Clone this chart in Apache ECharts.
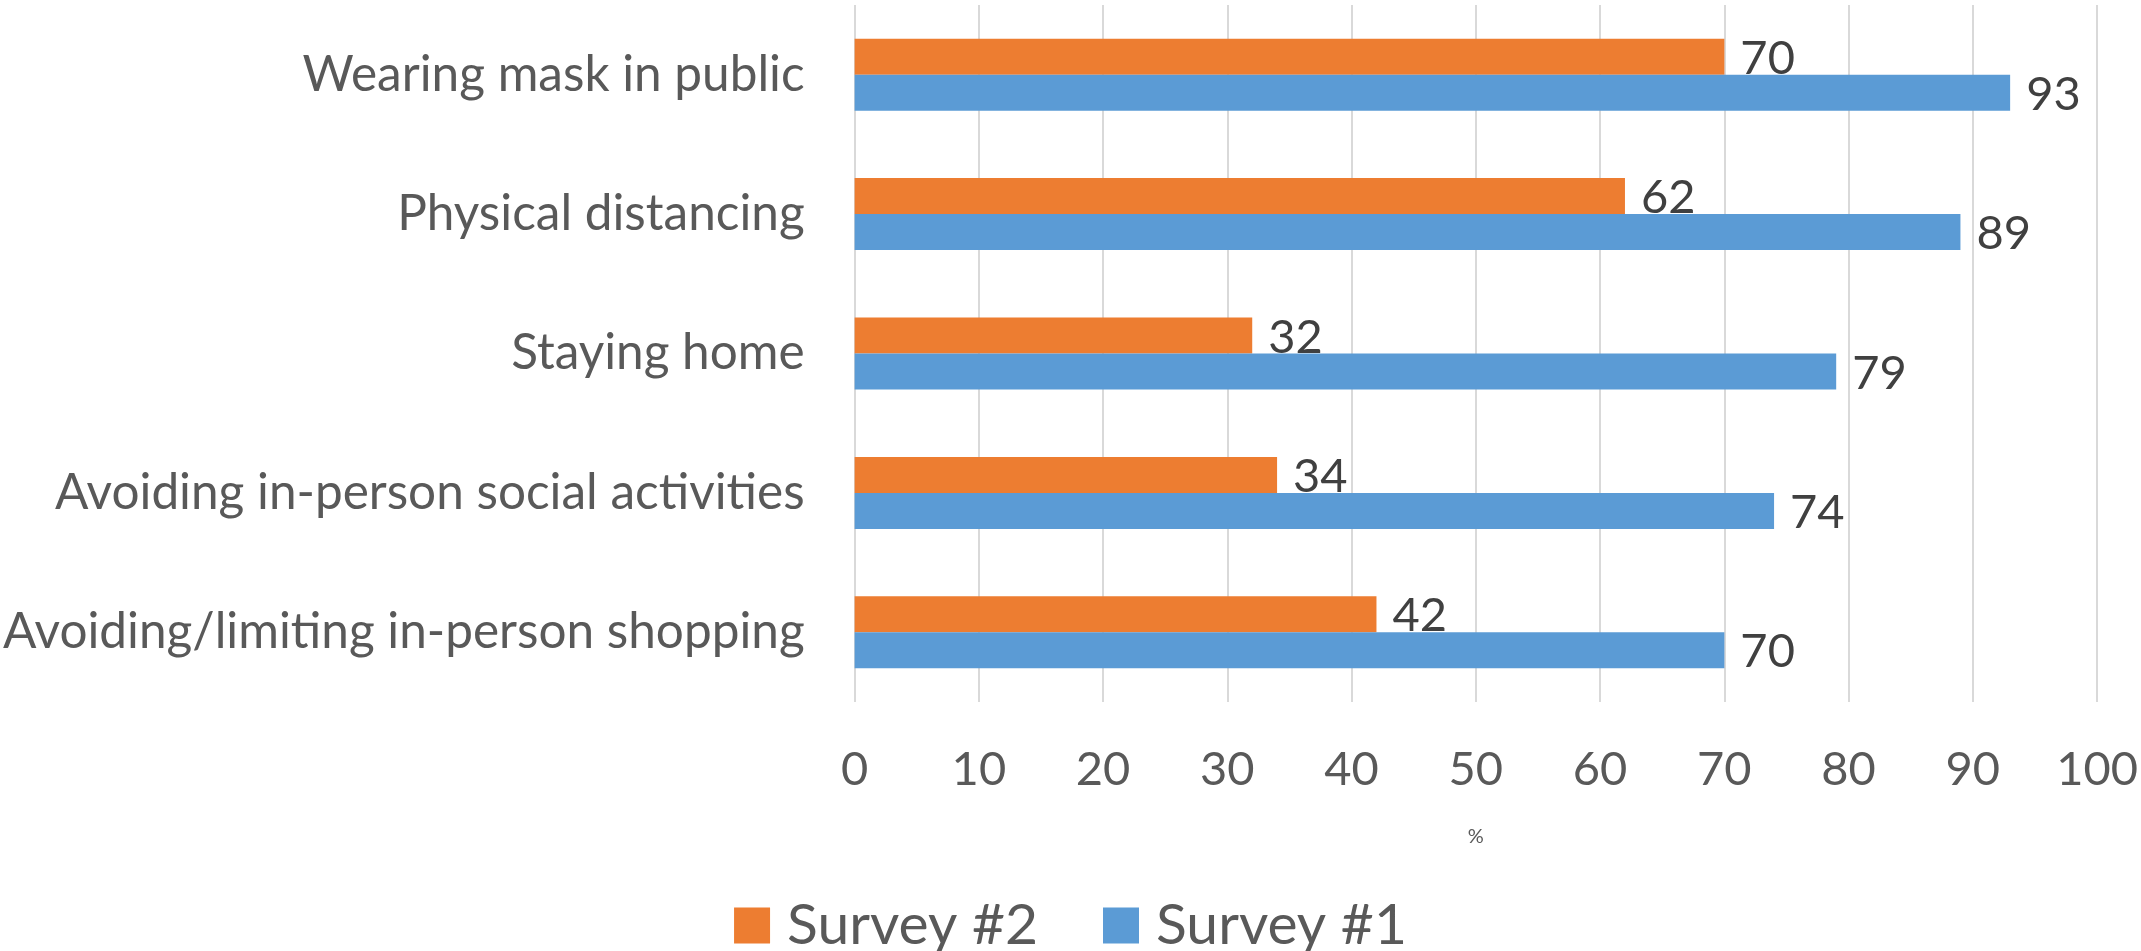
<!DOCTYPE html>
<html>
<head>
<meta charset="utf-8">
<script src="https://cdn.jsdelivr.net/npm/echarts@6/dist/echarts.min.js"></script>
<style>
html,body{margin:0;padding:0;background:#fff;}
#chart{width:2141px;height:951px;}
</style>
</head>
<body>
<div id="chart"></div>
<script>
// Categories listed bottom to top (ECharts category y-axis starts at bottom)
const categories = [
  "Avoiding/limiting in-person shopping",
  "Avoiding in-person social activities",
  "Staying home",
  "Physical distancing",
  "Wearing mask in public"
];
const survey2 = [42, 34, 32, 62, 70];
const survey1 = [70, 74, 79, 89, 93];
const xTicks = [0, 10, 20, 30, 40, 50, 60, 70, 80, 90, 100];

const FONT = "Lato";
const chart = echarts.init(document.getElementById('chart'));
chart.setOption({
  backgroundColor: '#ffffff',
  animation: false,
  textStyle: { fontFamily: FONT },
  grid: { left: 852, right: 43, top: 5, bottom: 249, containLabel: false },
  legend: {
    data: ['Survey #2', 'Survey #1'],
    top: 892,
    left: 'center',
    itemWidth: 36,
    itemHeight: 36,
    itemGap: 65,
    icon: 'rect',
    textStyle: { fontSize: 57, color: '#595959', fontFamily: FONT, padding: [0, 0, 0, 12] }
  },
  xAxis: {
    type: 'value',
    min: xTicks[0],
    max: xTicks[xTicks.length - 1],
    interval: 10,
    name: '%',
    nameLocation: 'middle',
    nameGap: 125,
    nameTextStyle: { fontSize: 20, color: '#595959', fontFamily: FONT },
    axisLine: { show: false },
    axisTick: { show: false },
    axisLabel: { fontSize: 47, color: '#595959', margin: 44, fontFamily: FONT },
    splitLine: { show: true, lineStyle: { color: '#D9D9D9', width: 2 } }
  },
  yAxis: {
    type: 'category',
    data: categories,
    axisLine: { show: false },
    axisTick: { show: false },
    axisLabel: { fontSize: 49.5, color: '#595959', margin: 50, fontFamily: FONT }
  },
  series: [
    {
      name: 'Survey #2',
      type: 'bar',
      data: survey2,
      barWidth: 36,
      barGap: '0%',
      itemStyle: { color: '#ED7D31' },
      label: { show: true, position: 'right', distance: 16, fontSize: 47, color: '#404040', fontFamily: FONT, offset: [0, 2] }
    },
    {
      name: 'Survey #1',
      type: 'bar',
      data: survey1,
      barWidth: 36,
      barGap: '0%',
      itemStyle: { color: '#5B9BD5' },
      label: { show: true, position: 'right', distance: 16, fontSize: 47, color: '#404040', fontFamily: FONT, offset: [0, 2] }
    }
  ]
});
</script>
</body>
</html>
